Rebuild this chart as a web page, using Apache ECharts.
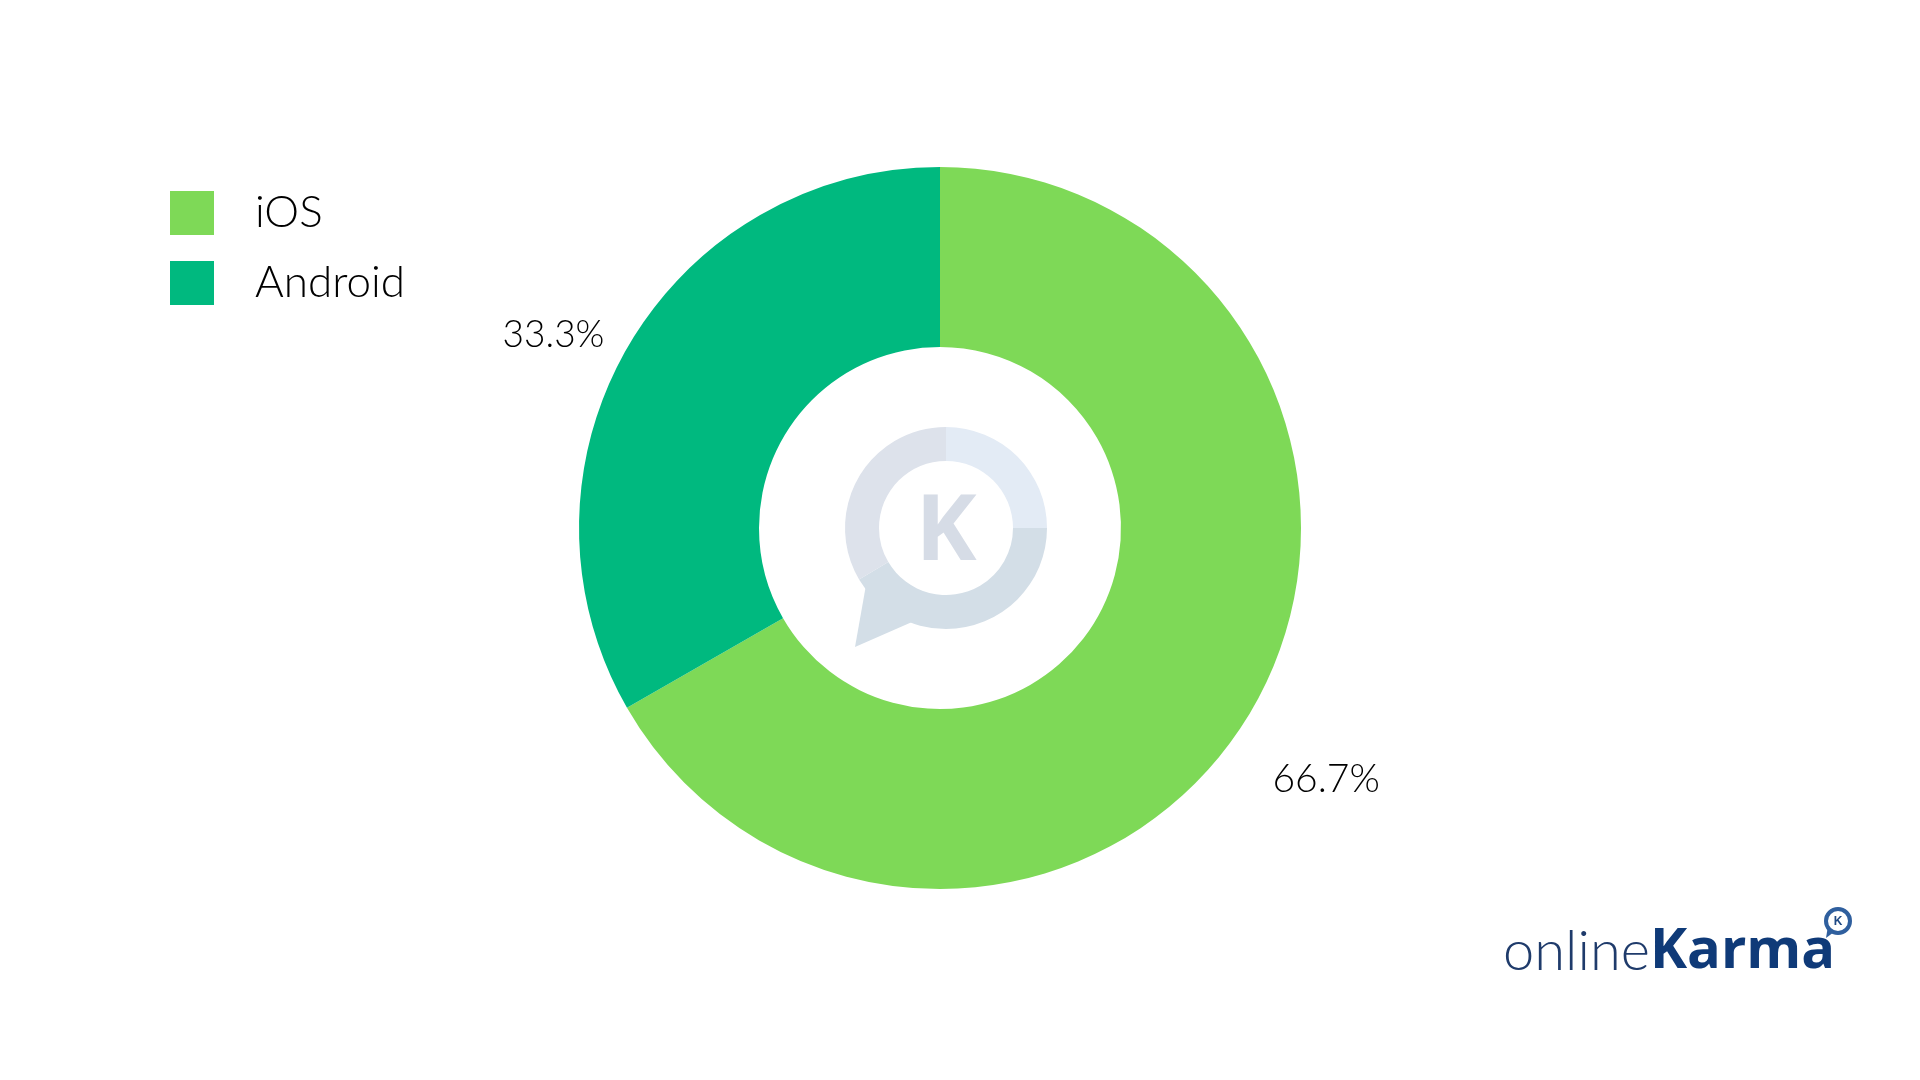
<!DOCTYPE html>
<html>
<head>
<meta charset="utf-8">
<style>
html,body{margin:0;padding:0;background:#fff;}
#chart{width:1920px;height:1080px;}
</style>
<script src="https://cdn.jsdelivr.net/npm/echarts@6/dist/echarts.min.js"></script>
</head>
<body>
<div id="chart"></div>
<script>
const categories = ['iOS', 'Android'];
const shares = [66.7, 33.3];
const colors = ['#7ED957', '#00B97F'];

const chart = echarts.init(document.getElementById('chart'), null, {renderer: 'canvas'});
const FONT = 'Lato, "Open Sans", sans-serif';

const pieData = categories.map((name, i) => {
  const item = {name: name, value: shares[i], itemStyle: {color: colors[i]}};
  if (i === 0) {
    item.labelLine = {show: false, length: 141, length2: 0};
    item.label = {offset: [-107, 0], fontSize: 39};
  } else {
    item.label = {offset: [7, 2], fontSize: 37};
  }
  return item;
});

const cx = 946, cy = 528;
const option = {
  animation: false,
  backgroundColor: '#ffffff',
  legend: {
    orient: 'vertical',
    left: 165,
    top: 186,
    itemWidth: 44,
    itemHeight: 44,
    itemGap: 26,
    icon: 'rect',
    data: categories,
    selectedMode: false,
    textStyle: {fontFamily: FONT, fontSize: 44, fontWeight: 300, color: '#000', padding: [0, 0, 0, 36]}
  },
  graphic: [
    {type: 'sector', silent: true, z: 0, shape: {cx: cx, cy: cy, r: 101, r0: 67, startAngle: -Math.PI/2, endAngle: 0}, style: {fill: '#E3EBF5'}},
    {type: 'sector', silent: true, z: 0, shape: {cx: cx, cy: cy, r: 101, r0: 67, startAngle: 0, endAngle: Math.PI*0.83}, style: {fill: '#D3DEE7'}},
    {type: 'sector', silent: true, z: 0, shape: {cx: cx, cy: cy, r: 101, r0: 67, startAngle: Math.PI*0.83, endAngle: Math.PI*1.5}, style: {fill: '#DDE2EB'}},
    {type: 'polygon', silent: true, z: 0, shape: {points: [[866, 585], [912, 622], [855, 647]]}, style: {fill: '#D3DEE7'}},
    {type: 'text', silent: true, z: 0, style: {x: cx, y: cy + 6, text: 'K', fill: '#D6DCE6', font: 'bold 92px "Open Sans", Lato, sans-serif', textAlign: 'center', textVerticalAlign: 'middle'}},
    {type: 'text', silent: true, z: 5, style: {x: 1503, y: 980, textVerticalAlign: 'bottom', text: '{a|online}{b|Karma}',
      rich: {
        a: {fontFamily: FONT, fontSize: 56, fontWeight: 300, fill: '#1F3B6B', color: '#1F3B6B'},
        b: {fontFamily: '"Open Sans", Lato, sans-serif', fontSize: 56, fontWeight: 'bold', fill: '#0F3A78', color: '#0F3A78'}
      }}},
    {type: 'circle', silent: true, z: 5, shape: {cx: 1838, cy: 921, r: 12}, style: {fill: '#fff', stroke: '#2F5F9E', lineWidth: 4}},
    {type: 'polygon', silent: true, z: 5, shape: {points: [[1828, 926], [1834, 932], [1826, 938]]}, style: {fill: '#2F5F9E'}},
    {type: 'text', silent: true, z: 6, style: {x: 1838, y: 922, text: 'K', fill: '#1F4A85', font: 'bold 12px sans-serif', textAlign: 'center', textVerticalAlign: 'middle'}}
  ],
  series: [{
    type: 'pie',
    center: [940, 528],
    radius: [181, 361],
    startAngle: 90,
    clockwise: true,
    avoidLabelOverlap: false,
    silent: true,
    label: {
      show: true,
      position: 'outside',
      formatter: '{c}%',
      fontFamily: FONT,
      fontWeight: 300,
      fontSize: 36,
      color: '#000'
    },
    labelLine: {show: false, length: 29, length2: 0},
    emphasis: {disabled: true},
    data: pieData
  }]
};
chart.setOption(option);
</script>
</body>
</html>
